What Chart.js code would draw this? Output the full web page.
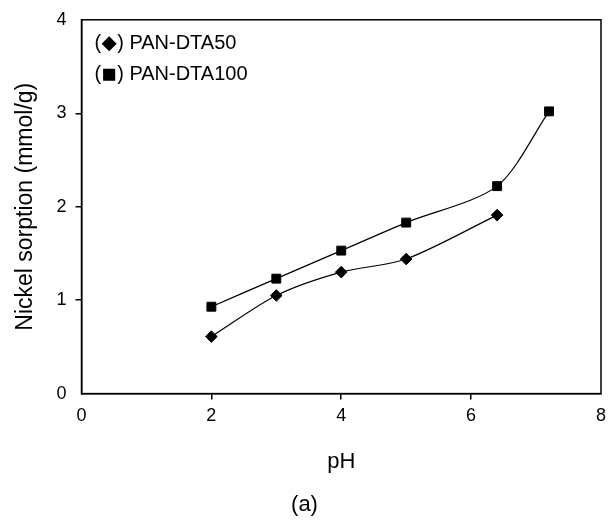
<!DOCTYPE html>
<html>
<head>
<meta charset="utf-8">
<script src="https://cdn.jsdelivr.net/npm/chart.js@4/dist/chart.umd.min.js"></script>
<style>
html,body{margin:0;padding:0;background:#fff;}
#wrap{width:612px;height:521px;position:relative;}
</style>
</head>
<body>
<div id="wrap"><canvas id="c" width="612" height="521"></canvas></div>
<script>
const seriesNames = ["PAN-DTA50", "PAN-DTA100"];
const phDTA50 = [2.0, 3.0, 4.0, 5.0, 6.4];
const sorpDTA50 = [0.61, 1.05, 1.30, 1.44, 1.91];
const phDTA100 = [2.0, 3.0, 4.0, 5.0, 6.4, 7.2];
const sorpDTA100 = [0.93, 1.23, 1.53, 1.83, 2.22, 3.02];
const xTicks = [0, 2, 4, 6, 8];
const yTicks = [0, 1, 2, 3, 4];
const xTitle = "pH";
const yTitle = "Nickel sorption (mmol/g)";
const caption = "(a)";

const FONT = "'Liberation Sans', Arial, Helvetica, sans-serif";

function toXY(xs, ys){ return xs.map((x,i)=>({x:x, y:ys[i]})); }

const boxPlugin = {
  id: 'box',
  afterDraw(chart){
    const {ctx, chartArea:a} = chart;
    ctx.save();
    ctx.strokeStyle = '#000';
    ctx.lineWidth = 1.5;
    ctx.strokeRect(a.left, a.top, a.right - a.left, a.bottom - a.top);
    // legend inside plot
    ctx.fillStyle = '#000';
    ctx.font = "20px " + FONT;
    ctx.textBaseline = 'middle';
    ctx.textAlign = 'left';
    const rows = [
      {y: a.top + 24, style: 'rectRot', r: 6.5},
      {y: a.top + 55, style: 'rect', r: 7.5}
    ];
    rows.forEach((row, i) => {
      const x0 = a.left + 13;
      ctx.fillText("(", x0, row.y);
      const wp = ctx.measureText("(").width;
      const mx = x0 + wp + 8;
      Chart.helpers.drawPoint(ctx, {pointStyle: row.style, radius: row.r, borderWidth: 1}, mx, row.y);
      ctx.fillStyle = '#000';
      ctx.fillText(") " + seriesNames[i], mx + 8, row.y);
    });
    ctx.restore();
  }
};

const tickColor = (ctx) => (ctx.index === 0 || ctx.index === 4) ? 'rgba(0,0,0,0)' : '#000';

new Chart(document.getElementById('c'), {
  type: 'line',
  data: {
    datasets: [
      {
        label: seriesNames[0],
        data: toXY(phDTA50, sorpDTA50),
        borderColor: '#000',
        backgroundColor: '#000',
        borderWidth: 1.2,
        pointStyle: 'rectRot',
        pointRadius: 5.8,
        pointBorderWidth: 1,
        pointBackgroundColor: '#000',
        tension: 0.28,
        fill: false
      },
      {
        label: seriesNames[1],
        data: toXY(phDTA100, sorpDTA100),
        borderColor: '#000',
        backgroundColor: '#000',
        borderWidth: 1.2,
        pointStyle: 'rect',
        pointRadius: 6.3,
        pointBorderWidth: 1,
        pointBackgroundColor: '#000',
        tension: 0.28,
        fill: false
      }
    ]
  },
  options: {
    responsive: false,
    animation: false,
    devicePixelRatio: 1,
    layout: { padding: { top: 19, right: 3, left: 0, bottom: 0 } },
    plugins: {
      legend: { display: false },
      tooltip: { enabled: false },
      title: {
        display: true,
        text: caption,
        position: 'bottom',
        color: '#000',
        font: { family: FONT, size: 22, weight: 'normal' },
        padding: { top: 0, bottom: 3 }
      }
    },
    scales: {
      x: {
        type: 'linear',
        min: 0, max: 8,
        afterBuildTicks(s){ s.ticks = xTicks.map(v => ({value: v})); },
        afterFit(s){ s.height = 98; },
        grid: { drawOnChartArea: false, drawTicks: true, tickLength: 6, color: tickColor, lineWidth: 1.5 },
        border: { display: true, color: '#000', width: 1.5 },
        ticks: { color: '#000', font: { family: FONT, size: 18 }, padding: 6, maxRotation: 0 },
        title: { display: true, text: xTitle, color: '#000', font: { family: FONT, size: 22 }, padding: { top: 0, bottom: 16 } }
      },
      y: {
        type: 'linear',
        min: 0, max: 4,
        afterBuildTicks(s){ s.ticks = yTicks.map(v => ({value: v})); },
        afterFit(s){ s.width = 81.5; },
        grid: { drawOnChartArea: false, drawTicks: true, tickLength: 6, color: tickColor, lineWidth: 1.5 },
        border: { display: true, color: '#000', width: 1.5 },
        ticks: { color: '#000', font: { family: FONT, size: 18 }, padding: 9 },
        title: { display: true, text: yTitle, color: '#000', font: { family: FONT, size: 23 }, padding: { top: 12, bottom: 0 } }
      }
    }
  },
  plugins: [boxPlugin]
});
</script>
</body>
</html>
